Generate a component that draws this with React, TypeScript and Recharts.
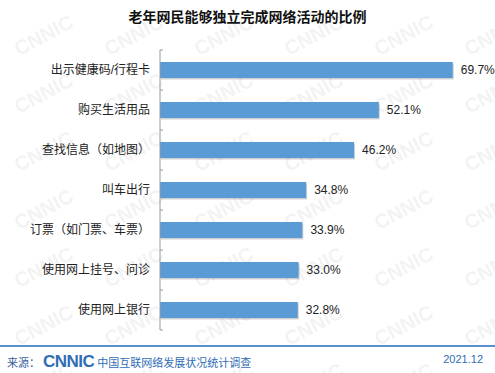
import { BarChart, Bar, XAxis, YAxis, LabelList } from "recharts";

const categories = [
  "出示健康码/行程卡",
  "购买生活用品",
  "查找信息（如地图）",
  "叫车出行",
  "订票（如门票、车票）",
  "使用网上挂号、问诊",
  "使用网上银行",
];
const values = [69.7, 52.1, 46.2, 34.8, 33.9, 33.0, 32.8];

const data = categories.map((name, i) => ({ name, value: values[i] }));

const BAR_COLOR = "#5b9bd5";
const FONT = "'Liberation Sans', 'Noto Sans CJK SC', sans-serif";
const BAND = 40;

function CategoryTick(props: any) {
  const { x, y, payload, index } = props;
  return (
    <g>
      <line x1={x} x2={x + 3} y1={y - BAND / 2} y2={y - BAND / 2} stroke="#999" />
      {index === categories.length - 1 && (
        <line x1={x} x2={x + 3} y1={y + BAND / 2} y2={y + BAND / 2} stroke="#999" />
      )}
      <text x={x - 10} y={y} dy={4} textAnchor="end" fontSize={12} fill="#222" fontFamily={FONT}>
        {payload.value}
      </text>
    </g>
  );
}

function ShadowBar(props: any) {
  const { x, y, width, height } = props;
  return (
    <g>
      <rect x={x + 1} y={y + 1.5} width={width} height={height} fill="#000" opacity={0.18} />
      <rect x={x} y={y} width={width} height={height} fill={BAR_COLOR} />
    </g>
  );
}

function Watermark() {
  return (
    <svg width={495} height={373} style={{ position: "absolute", left: 0, top: 0 }}>
      <defs>
        <pattern id="wm" width={90} height={58} patternUnits="userSpaceOnUse">
          <text
            x={12}
            y={44}
            fontSize={20}
            fontWeight="bold"
            fill="#f3f3f3"
            fontFamily="'Liberation Sans', sans-serif"
            transform="rotate(-28 40 36)"
          >
            CNNIC
          </text>
        </pattern>
      </defs>
      <rect width={495} height={373} fill="url(#wm)" />
    </svg>
  );
}

export default function App() {
  return (
    <div
      style={{
        position: "absolute",
        left: 0,
        top: 0,
        width: 495,
        height: 373,
        background: "#fff",
        overflow: "hidden",
        fontFamily: FONT,
      }}
    >
      <Watermark />
      <div
        style={{
          position: "absolute",
          left: 0,
          top: 6,
          width: 495,
          textAlign: "center",
          fontSize: 14,
          fontWeight: "bold",
          color: "#111",
          fontFamily: "'Noto Sans CJK SC', sans-serif",
        }}
      >
        老年网民能够独立完成网络活动的比例
      </div>
      <div style={{ position: "absolute", left: 0, top: 0 }}>
        <BarChart
          width={495}
          height={340}
          data={data}
          layout="vertical"
          margin={{ top: 50, right: 41, bottom: 10, left: 0 }}
          barCategoryGap={12}
        >
          <XAxis type="number" domain={[0, 70]} hide />
          <YAxis
            type="category"
            dataKey="name"
            width={160}
            tickLine={false}
            axisLine={{ stroke: "#999" }}
            tick={<CategoryTick />}
            tickMargin={0}
            tickSize={0}
            interval={0}
          />
          <Bar dataKey="value" fill={BAR_COLOR} isAnimationActive={false} shape={<ShadowBar />}>
            <LabelList
              dataKey="value"
              position="right"
              offset={8}
              fontSize={12}
              fill="#222"
              fontFamily="'Liberation Sans', sans-serif"
              formatter={(v: any) => `${Number(v).toFixed(1)}%`}
            />
          </Bar>
        </BarChart>
      </div>
      <div
        style={{
          position: "absolute",
          left: 0,
          top: 345,
          width: 495,
          height: 1.5,
          background: "#5b8fd0",
        }}
      />
      <div
        style={{
          position: "absolute",
          left: 7,
          top: 352,
          fontSize: 11,
          color: "#3a5f9a",
          display: "flex",
          alignItems: "center",
          whiteSpace: "nowrap",
        }}
      >
        <span>来源：</span>
        <span
          style={{
            fontFamily: "'Liberation Sans', sans-serif",
            fontWeight: 900,
            fontSize: 17,
            color: "#2f6db5",
            letterSpacing: -0.5,
            margin: "0 3px 0 3px",
          }}
        >
          CNNIC
        </span>
        <span style={{ color: "#2f6db5" }}>中国互联网络发展状况统计调查</span>
      </div>
      <div
        style={{
          position: "absolute",
          right: 12,
          top: 353,
          fontSize: 11,
          color: "#2f6db5",
          fontFamily: "'Liberation Sans', sans-serif",
        }}
      >
        2021.12
      </div>
    </div>
  );
}
